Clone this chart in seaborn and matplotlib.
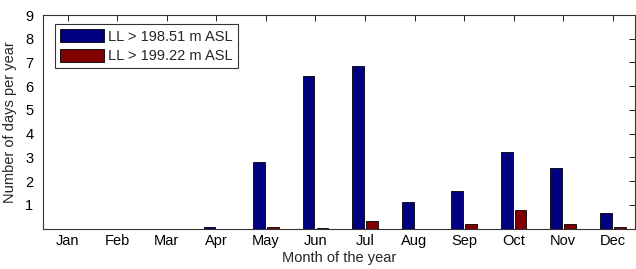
import numpy as np
import pandas as pd
import matplotlib
matplotlib.use('Agg')
import matplotlib.pyplot as plt
import seaborn as sns

# Values
months = ['Jan', 'Feb', 'Mar', 'Apr', 'May', 'Jun', 'Jul', 'Aug', 'Sep', 'Oct', 'Nov', 'Dec']
ll_19851 = [0, 0, 0, 0.05, 2.8, 6.42, 6.85, 1.1, 1.56, 3.22, 2.55, 0.67]
ll_19922 = [0, 0, 0, 0, 0.05, 0.02, 0.3, 0, 0.2, 0.8, 0.2, 0.06]
series_names = ['LL > 198.51 m ASL', 'LL > 199.22 m ASL']
y_ticks = [1, 2, 3, 4, 5, 6, 7, 8, 9]

df = pd.DataFrame({
    'month': months * 2,
    'days': ll_19851 + ll_19922,
    'level': [series_names[0]] * 12 + [series_names[1]] * 12,
})

sns.set_style('white')
plt.rcParams['font.family'] = ['Liberation Sans', 'DejaVu Sans']
fs = 10.5

fig = plt.figure(figsize=(6.36, 2.69), dpi=100)
ax = fig.add_axes([43 / 636, 40.5 / 269, 592 / 636, 213.5 / 269])

sns.barplot(data=df, x='month', y='days', hue='level', order=months,
            palette=['#000080', '#800000'], saturation=1, width=0.56, gap=0.15,
            edgecolor='black', linewidth=0.6, ax=ax)

ax.set_xlim(-0.5, 11.45)
ax.set_ylim(0, 9)
ax.set_yticks(y_ticks)
ax.set_xlabel('Month of the year', fontsize=fs, labelpad=2)
ax.set_ylabel('Number of days per year', fontsize=fs, labelpad=6)
ax.tick_params(axis='both', direction='in', length=4, width=0.6, top=True, right=True,
               labelsize=fs, colors='black')
ax.tick_params(axis='y', pad=7)
ax.tick_params(axis='x', pad=4)
for s in ax.spines.values():
    s.set_color('#333333')
    s.set_linewidth(0.8)
    s.set_visible(True)

leg = ax.legend(loc='upper left', bbox_to_anchor=(0.02, 0.958), frameon=True,
                fancybox=False, edgecolor='black', fontsize=fs,
                handlelength=3.0, handleheight=1.0, handletextpad=0.3,
                borderpad=0.35, labelspacing=0.35, borderaxespad=0)
leg.get_frame().set_linewidth(0.8)

fig.savefig('out.png', dpi=100)
